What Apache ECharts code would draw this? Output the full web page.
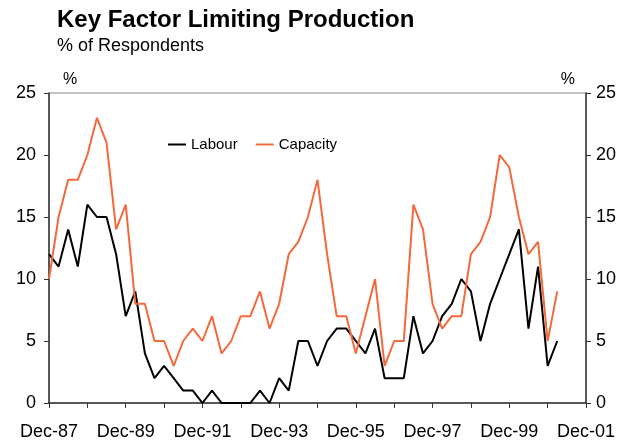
<!DOCTYPE html>
<html>
<head>
<meta charset="utf-8">
<script src="https://cdn.jsdelivr.net/npm/echarts@6/dist/echarts.min.js"></script>
<style>
  html, body { margin: 0; padding: 0; background: #fff; }
  #chart { width: 631px; height: 443px; }
</style>
</head>
<body>
<div id="chart"></div>
<script>
// quarterly, Dec-87 .. Dec-01
const months = ['Dec', 'Mar', 'Jun', 'Sep']
const quarters = []
for (let i = 0; i <= 56; i++) {
  const y = i % 4 === 0 ? 87 + i / 4 : 88 + Math.floor(i / 4)
  quarters.push(months[i % 4] + '-' + String(y % 100).padStart(2, '0'))
}

const labour = [12, 11, 14, 11, 16, 15, 15, 12, 7, 9, 4, 2, 3, 2, 1, 1, 0, 1, 0, 0,
  0, 0, 1, 0, 2, 1, 5, 5, 3, 5, 6, 6, 5, 4, 6, 2, 2, 2, 7, 4,
  5, 7, 8, 10, 9, 5, 8, 10, 12, 14, 6, 11, 3, 5]
const capacity = [10, 15, 18, 18, 20, 23, 21, 14, 16, 8, 8, 5, 5, 3, 5, 6, 5, 7, 4, 5,
  7, 7, 9, 6, 8, 12, 13, 15, 18, 12, 7, 7, 4, 7, 10, 3, 5, 5, 16, 14,
  8, 6, 7, 7, 12, 13, 15, 20, 19, 15, 12, 13, 5, 9]
const yTicks = [0, 5, 10, 15, 20, 25]

const font = 'Liberation Sans, Arial, sans-serif'
const axisColor = '#333'

const yAxisBase = {
  type: 'value',
  min: yTicks[0],
  max: yTicks[yTicks.length - 1],
  interval: 5,
  nameLocation: 'end',
  nameGap: 5,
  axisLine: { show: true, lineStyle: { color: axisColor, width: 1.5 } },
  axisTick: { show: true, inside: false, length: 5, lineStyle: { color: axisColor } },
  axisLabel: { color: '#000', fontSize: 18, fontFamily: font },
  splitLine: { show: false }
}

const chart = echarts.init(document.getElementById('chart'))
chart.setOption({
  animation: false,
  title: {
    text: 'Key Factor Limiting Production',
    subtext: '% of Respondents',
    left: 52,
    top: 3,
    itemGap: 5,
    textStyle: { fontSize: 24, fontWeight: 'bold', color: '#000', fontFamily: font },
    subtextStyle: { fontSize: 18, color: '#000', fontFamily: font }
  },
  legend: {
    left: 163,
    top: 132,
    itemWidth: 18,
    itemHeight: 2,
    itemGap: 18,
    icon: 'rect',
    textStyle: { fontSize: 15, color: '#000', fontFamily: font },
    data: ['Labour', 'Capacity']
  },
  grid: { left: 49, right: 45, top: 93, bottom: 40, show: true, borderColor: '#888', borderWidth: 1 },
  xAxis: {
    type: 'category',
    data: quarters,
    boundaryGap: false,
    axisLine: { lineStyle: { color: axisColor, width: 1.5 } },
    axisTick: { show: true, interval: 3, length: 5, lineStyle: { color: axisColor } },
    axisLabel: { interval: 7, margin: 20, color: '#000', fontSize: 18, fontFamily: font },
    splitLine: { show: false }
  },
  yAxis: [
    Object.assign({}, yAxisBase, {
      position: 'left',
      name: '%',
      nameTextStyle: { align: 'left', padding: [0, 0, 0, 14], fontSize: 16, color: '#000', fontFamily: font },
      axisLabel: Object.assign({}, yAxisBase.axisLabel, { margin: 13 })
    }),
    Object.assign({}, yAxisBase, {
      position: 'right',
      name: '%',
      nameTextStyle: { align: 'right', padding: [0, 11, 0, 0], fontSize: 16, color: '#000', fontFamily: font },
      axisLabel: Object.assign({}, yAxisBase.axisLabel, { margin: 10 })
    })
  ],
  series: [
    {
      name: 'Labour',
      type: 'line',
      data: labour,
      showSymbol: false,
      lineStyle: { color: '#000', width: 2 },
      itemStyle: { color: '#000' }
    },
    {
      name: 'Capacity',
      type: 'line',
      data: capacity,
      showSymbol: false,
      lineStyle: { color: '#f26a3c', width: 2 },
      itemStyle: { color: '#f26a3c' }
    }
  ]
})
</script>
</body>
</html>
